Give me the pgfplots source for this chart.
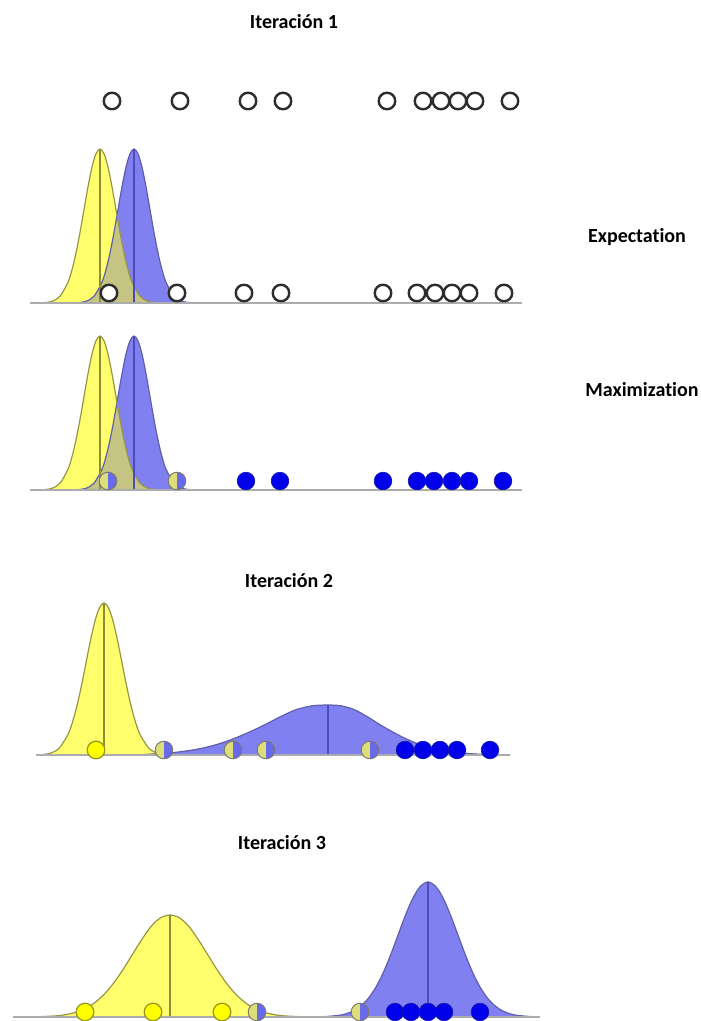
\documentclass[border=0pt]{standalone}
\usepackage{pgfplots}
\pgfplotsset{compat=1.18}
\usepackage{pgfplotstable}
\usepackage{fontspec}
\setmainfont[Ligatures=NoCommon]{Carlito}

\definecolor{yfill}{RGB}{255,255,110}
\definecolor{bfill}{RGB}{128,128,240}
\definecolor{ofill}{RGB}{198,196,130}
\definecolor{yline}{RGB}{150,150,70}
\definecolor{bline}{RGB}{95,95,170}
\definecolor{ymean}{RGB}{140,140,60}
\definecolor{bmean}{RGB}{75,75,185}
\definecolor{baseg}{RGB}{172,172,172}
\definecolor{ring}{RGB}{45,45,45}
\definecolor{dotblue}{RGB}{0,0,235}
\definecolor{dotedge}{RGB}{20,20,170}
\definecolor{dotyel}{RGB}{255,255,0}
\definecolor{yedge}{RGB}{150,150,30}
\definecolor{hy}{RGB}{222,222,120}
\definecolor{hb}{RGB}{105,105,235}
\definecolor{hedge}{RGB}{120,120,110}

% half yellow / half blue point
\pgfdeclareplotmark{halfyb}{%
  \begin{pgfscope}
  \pgfsetfillcolor{hy}%
  \pgfpathmoveto{\pgfqpoint{0pt}{\pgfplotmarksize}}%
  \pgfpatharc{90}{270}{\pgfplotmarksize}%
  \pgfpathclose
  \pgfusepath{fill}%
  \pgfsetfillcolor{hb}%
  \pgfpathmoveto{\pgfqpoint{0pt}{-\pgfplotmarksize}}%
  \pgfpatharc{-90}{90}{\pgfplotmarksize}%
  \pgfpathclose
  \pgfusepath{fill}%
  \end{pgfscope}
  \pgfpathcircle{\pgfpointorigin}{\pgfplotmarksize}%
  \pgfusepath{stroke}%
}

\pgfplotsset{
  panel/.style={x=0.75pt, y=0.75pt, xmin=0, xmax=700, ymin=-20, ymax=180,
    hide axis, anchor=south west, clip=false},
  yarea/.style={draw=none, fill=yfill, smooth},
  barea/.style={draw=none, fill=bfill, smooth},
  yedge/.style={draw=yline, line width=0.9pt, smooth, mark=none},
  bedge/.style={draw=bline, line width=0.9pt, smooth, mark=none},
  ymid/.style={draw=ymean, line width=1pt, mark=none},
  bmid/.style={draw=bmean, line width=1pt, mark=none},
  base/.style={draw=baseg, line width=1.5pt, mark=none},
  open/.style={only marks, mark=*, mark size=6.2pt,
    mark options={draw=ring, fill=white, line width=1.8pt}},
  bdot/.style={only marks, mark=*, mark size=6.6pt,
    mark options={draw=dotedge, fill=dotblue, line width=0.5pt}},
  ydot/.style={only marks, mark=*, mark size=6.6pt,
    mark options={draw=yedge, fill=dotyel, line width=0.9pt}},
  hdot/.style={only marks, mark=halfyb, mark size=6.6pt,
    mark options={draw=hedge, line width=0.7pt}},
}

% iterations 1 (both panels): heights above the base line, in pixels
\pgfplotstableread{
x h
44 0.34
52 1.71
60 6.77
68 20.84
72 33.31
76 50.00
80 70.51
84 93.41
88 116.25
92 135.91
96 149.26
100 154
104 149.26
108 135.91
112 116.25
116 93.41
120 70.51
124 50.00
128 33.31
132 20.84
140 6.77
148 1.71
156 0.34
}\yone
\pgfplotstableread{
x h
78 0.34
86 1.71
94 6.77
102 20.84
106 33.31
110 50.00
114 70.51
118 93.41
122 116.25
126 135.91
130 149.26
134 154
138 149.26
142 135.91
146 116.25
150 93.41
154 70.51
158 50.00
162 33.31
166 20.84
174 6.77
182 1.71
190 0.34
198 0.06
}\bone
\pgfplotstableread{
x h
78 0
86 1.71
90 3.51
94 6.77
98 12.26
102 20.84
106 33.31
110 50.00
112 59.85
114 70.51
116 81.79
117 87.56
118 81.79
120 70.51
122 59.85
124 50.00
128 33.31
132 20.84
136 12.26
140 6.77
144 3.51
148 1.71
156 0
}\oone
% iteration 2
\pgfplotstableread{
x h
41 0.33
50 1.69
59 6.68
68 20.57
72.5 32.87
77 49.35
81.5 69.59
86 92.19
90.5 114.74
95 134.14
99.5 147.32
104 152
108.5 147.32
113 134.14
117.5 114.74
122 92.19
126.5 69.59
131 49.35
135.5 32.87
140 20.57
149 6.68
158 1.69
167 0.33
}\ytwo
\pgfplotstableread{
x h
140 0.2
154.75 1.14
170.5 2.20
186 3.98
202 6.77
217.75 10.81
233.5 16.23
249.25 22.89
265 30.33
280.75 38.5
296.5 45.5
312.25 49.2
328 50
341 49.2
354 45.5
367 38.5
380 30.33
393 22.89
406 16.23
419 10.81
432 6.77
445 3.98
458 2.20
484 0.56
510 0.11
}\btwo
% iteration 3
\pgfplotstableread{
x h
37 0.22
56 1.13
65.5 2.33
75 4.48
84.5 8.12
94 13.80
103.5 22.06
113 33.11
122.5 46.70
132 61.87
141.5 76.99
151 90.5
160.5 99.2
170 102
179.5 99.2
189 90.5
198.5 76.99
208 61.87
217.5 46.70
227 33.11
236.5 22.06
246 13.80
255.5 8.12
265 4.48
274.5 2.33
284 1.13
303 0.22
}\ythree
\pgfplotstableread{
x h
323 0.30
338 1.50
345.5 3.08
353 5.93
360.5 10.75
368 18.27
375.5 29.20
383 43.83
390.5 61.81
398 81.88
405.5 101.90
413 119.14
420.5 130.85
428 135
435.5 130.85
443 119.14
450.5 101.90
458 81.88
465.5 61.81
473 43.83
480.5 29.20
488 18.27
495.5 10.75
503 5.93
510.5 3.08
518 1.50
533 0.30
}\bthree

\begin{document}
\begin{tikzpicture}
\useasboundingbox (0,0) rectangle (525pt,-765.75pt);

% points before any model
\begin{axis}[panel, at={(0pt,-90.75pt)}]
\addplot[open] coordinates {(112,0) (180,0) (248,0) (283,0) (387,0) (423,0) (441,0) (458,0) (475,0) (510,0)};
\end{axis}

% expectation
\begin{axis}[panel, at={(0pt,-242.25pt)}]
\addplot[barea] table[x=x, y=h] {\bone} \closedcycle;
\addplot[yarea] table[x=x, y=h] {\yone} \closedcycle;
\addplot[draw=none, fill=ofill] table[x=x, y=h] {\oone} \closedcycle;
\addplot[bedge] table[x=x, y=h] {\bone};
\addplot[yedge] table[x=x, y=h] {\yone};
\addplot[ymid] coordinates {(100,0) (100,154)};
\addplot[bmid] coordinates {(134,0) (134,154)};
\addplot[base] coordinates {(30,0) (522,0)};
\addplot[open] coordinates {(109,10) (177,10) (244,10) (281,10) (383,10) (417,10) (435,10) (452,10) (469,10) (504,10)};
\end{axis}

% maximization
\begin{axis}[panel, at={(0pt,-382.5pt)}]
\addplot[barea] table[x=x, y=h] {\bone} \closedcycle;
\addplot[yarea] table[x=x, y=h] {\yone} \closedcycle;
\addplot[draw=none, fill=ofill] table[x=x, y=h] {\oone} \closedcycle;
\addplot[bedge] table[x=x, y=h] {\bone};
\addplot[yedge] table[x=x, y=h] {\yone};
\addplot[ymid] coordinates {(100,0) (100,154)};
\addplot[bmid] coordinates {(134,0) (134,154)};
\addplot[base] coordinates {(30,0) (522,0)};
\addplot[hdot] coordinates {(108,9) (177,9)};
\addplot[bdot] coordinates {(246,9) (280,9) (383,9) (417,9) (434,9) (452,9) (469,9) (503,9)};
\end{axis}

% iteration 2
\begin{axis}[panel, at={(0pt,-581.25pt)}]
\addplot[barea] table[x=x, y=h] {\btwo} \closedcycle;
\addplot[yarea] table[x=x, y=h] {\ytwo} \closedcycle;
\addplot[bedge] table[x=x, y=h] {\btwo};
\addplot[yedge] table[x=x, y=h] {\ytwo};
\addplot[ymid] coordinates {(104,0) (104,152)};
\addplot[bmid] coordinates {(328,0) (328,50)};
\addplot[base] coordinates {(36,0) (510,0)};
\addplot[ydot] coordinates {(96,5)};
\addplot[hdot] coordinates {(164,5) (233,5) (266,5) (370,5)};
\addplot[bdot] coordinates {(405,5) (423,5) (440,5) (457,5) (490,5)};
\end{axis}

% iteration 3
\begin{axis}[panel, at={(0pt,-777.75pt)}]
\addplot[yarea] table[x=x, y=h] {\ythree} \closedcycle;
\addplot[barea] table[x=x, y=h] {\bthree} \closedcycle;
\addplot[yedge] table[x=x, y=h] {\ythree};
\addplot[bedge] table[x=x, y=h] {\bthree};
\addplot[ymid] coordinates {(170,0) (170,102)};
\addplot[bmid] coordinates {(428,0) (428,135)};
\addplot[base] coordinates {(13,0) (540,0)};
\addplot[ydot] coordinates {(85,5) (153,5) (222,5)};
\addplot[hdot] coordinates {(257,5) (360,5)};
\addplot[bdot] coordinates {(395,5) (411,5) (428,5) (444,5) (480,5)};
\end{axis}

\begin{scope}[every node/.style={font=\bfseries\fontsize{15}{18}\selectfont, inner sep=0pt}]
\node at (220.5pt,-16.5pt) {Iteración 1};
\node at (477.75pt,-177.75pt) {Expectation};
\node at (481.5pt,-292.5pt) {Maximization};
\node at (216.75pt,-435.75pt) {Iteración 2};
\node at (211.5pt,-632.25pt) {Iteración 3};
\end{scope}
\end{tikzpicture}
\end{document}
